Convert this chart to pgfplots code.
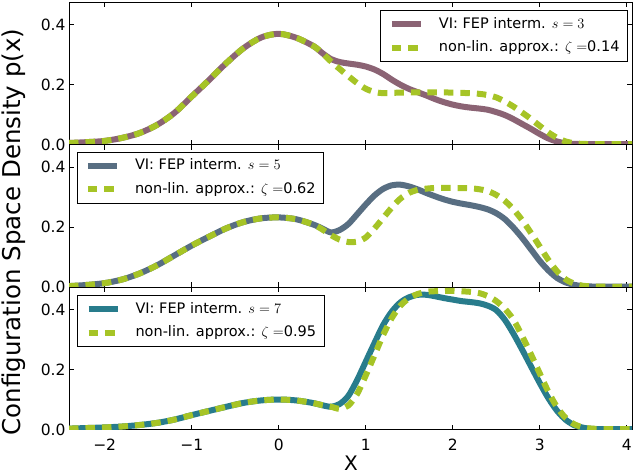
\documentclass[border=0pt]{standalone}
\usepackage{pgfplots}
\pgfplotsset{compat=1.18}
\usepackage{fontspec}
\setmainfont{DejaVu Sans}
\definecolor{vimauve}{RGB}{139,99,116}
\definecolor{vislate}{RGB}{88,110,130}
\definecolor{viteal}{RGB}{40,124,140}
\definecolor{apgreen}{RGB}{166,196,38}
\pgfplotsset{
  panel/.style={
    scale only axis, width=563pt, height=142.5pt,
    xmin=-2.41, xmax=4.06, ymin=0, ymax=0.475,
    xtick={-2,-1,0,1,2,3,4}, ytick={0,0.2,0.4}, yticklabels={0.0,0.2,0.4},
    tick align=inside, tick pos=both,
    major tick length=5pt,
    axis line style={line width=1pt},
    every tick/.style={black, line width=0.8pt},
    tick label style={font=\fontsize{15.5}{18}\selectfont},
    xticklabel style={yshift=-6pt},
    legend cell align=left,
    legend image code/.code={\draw[##1] (0pt,0pt) -- (29pt,0pt);},
    legend style={draw=black, line width=1pt, fill=white,
      font=\fontsize{14.5}{17}\selectfont,
      inner xsep=8pt, inner ysep=7pt, row sep=10pt,
      nodes={inner sep=0pt, text height=10.5pt, text depth=3pt},
      /tikz/every odd column/.style={column sep=15pt}},
  },
  vi/.style={line width=6pt, smooth},
  ap/.style={line width=6pt, smooth, color=apgreen, dash pattern=on 9.5pt off 7pt},
}
\begin{document}
\begin{tikzpicture}
% top panel
\begin{axis}[panel, at={(0,0)}, anchor=north west, xticklabels={},
  legend style={at={(axis description cs:1,1)}, anchor=north east, xshift=-4pt, yshift=-8pt}]
\addplot[vi, vimauve] coordinates {(-2.41,0.005) (-2.2,0.008) (-2.0,0.012) (-1.8,0.022) (-1.6,0.038) (-1.4,0.065) (-1.2,0.105) (-1.0,0.160) (-0.8,0.215) (-0.6,0.272) (-0.4,0.322) (-0.2,0.357) (0,0.369) (0.2,0.356) (0.4,0.328) (0.5,0.305) (0.6,0.285) (0.7,0.275) (0.8,0.27) (0.9,0.266) (1.0,0.26) (1.1,0.25) (1.2,0.235) (1.3,0.216) (1.4,0.199) (1.5,0.185) (1.6,0.174) (1.7,0.163) (1.8,0.151) (1.9,0.141) (2.0,0.133) (2.1,0.127) (2.2,0.123) (2.3,0.12) (2.4,0.116) (2.5,0.108) (2.6,0.098) (2.7,0.084) (2.8,0.068) (2.9,0.052) (3.0,0.035) (3.1,0.02) (3.2,0.01) (3.3,0.004) (3.4,0.002) (3.6,0.001) (4.06,0.001)};
\addlegendentry{VI: FEP interm. $s=3$}
\addplot[ap] coordinates {(-2.41,0.005) (-2.2,0.008) (-2.0,0.012) (-1.8,0.022) (-1.6,0.038) (-1.4,0.065) (-1.2,0.105) (-1.0,0.160) (-0.8,0.215) (-0.6,0.272) (-0.4,0.322) (-0.2,0.357) (0,0.369) (0.2,0.356) (0.4,0.328) (0.5,0.305) (0.6,0.277) (0.7,0.252) (0.8,0.228) (0.9,0.205) (1.0,0.186) (1.1,0.175) (1.2,0.171) (1.3,0.172) (1.4,0.173) (1.6,0.174) (1.8,0.174) (2.0,0.173) (2.2,0.171) (2.3,0.169) (2.4,0.165) (2.5,0.157) (2.6,0.143) (2.7,0.126) (2.8,0.106) (2.9,0.085) (3.0,0.062) (3.1,0.04) (3.2,0.022) (3.3,0.01) (3.4,0.004) (3.5,0.002) (3.7,0.001) (4.06,0.001)};
\addlegendentry{non-lin. approx.: $\zeta=$0.14}
\end{axis}
% middle panel
\begin{axis}[panel, at={(0,-142.5pt)}, anchor=north west, xticklabels={},
  legend style={at={(axis description cs:0,1)}, anchor=north west, xshift=7.5pt, yshift=-7pt}]
\addplot[vi, vislate] coordinates {(-2.41,0.003) (-2.2,0.007) (-2.0,0.013) (-1.8,0.025) (-1.6,0.045) (-1.4,0.072) (-1.2,0.105) (-1.0,0.138) (-0.8,0.168) (-0.6,0.196) (-0.4,0.217) (-0.2,0.229) (0,0.232) (0.2,0.226) (0.4,0.208) (0.5,0.195) (0.6,0.182) (0.7,0.19) (0.8,0.21) (0.9,0.242) (1.0,0.275) (1.1,0.305) (1.2,0.327) (1.3,0.339) (1.4,0.341) (1.5,0.335) (1.6,0.325) (1.7,0.313) (1.8,0.302) (1.9,0.292) (2.0,0.284) (2.1,0.278) (2.2,0.273) (2.3,0.267) (2.4,0.259) (2.5,0.246) (2.6,0.226) (2.7,0.197) (2.8,0.163) (2.9,0.125) (3.0,0.087) (3.1,0.055) (3.2,0.03) (3.3,0.015) (3.4,0.007) (3.5,0.003) (3.7,0.001) (4.06,0.001)};
\addlegendentry{VI: FEP interm. $s=5$}
\addplot[ap] coordinates {(-2.41,0.003) (-2.2,0.007) (-2.0,0.013) (-1.8,0.025) (-1.6,0.045) (-1.4,0.072) (-1.2,0.105) (-1.0,0.138) (-0.8,0.168) (-0.6,0.196) (-0.4,0.217) (-0.2,0.229) (0,0.232) (0.2,0.226) (0.4,0.208) (0.5,0.192) (0.6,0.173) (0.7,0.158) (0.8,0.150) (0.9,0.151) (1.0,0.165) (1.1,0.195) (1.2,0.23) (1.3,0.265) (1.4,0.295) (1.5,0.314) (1.6,0.324) (1.7,0.328) (1.8,0.33) (2.0,0.33) (2.2,0.329) (2.3,0.326) (2.4,0.32) (2.5,0.307) (2.6,0.287) (2.7,0.258) (2.8,0.222) (2.9,0.18) (3.0,0.135) (3.1,0.09) (3.2,0.052) (3.3,0.025) (3.4,0.011) (3.5,0.004) (3.7,0.001) (4.06,0.001)};
\addlegendentry{non-lin. approx.: $\zeta=$0.62}
\end{axis}
% bottom panel
\begin{axis}[panel, at={(0,-285pt)}, anchor=north west,
  xticklabels={−2,−1,0,1,2,3,4},
  legend style={at={(axis description cs:0,1)}, anchor=north west, xshift=8pt, yshift=-8pt}]
\addplot[vi, viteal] coordinates {(-2.41,0.003) (-2.2,0.005) (-2.0,0.007) (-1.8,0.01) (-1.6,0.015) (-1.4,0.022) (-1.2,0.033) (-1.0,0.048) (-0.8,0.062) (-0.6,0.076) (-0.4,0.089) (-0.2,0.097) (0,0.10) (0.2,0.097) (0.4,0.088) (0.5,0.081) (0.6,0.076) (0.7,0.085) (0.8,0.112) (0.9,0.164) (1.0,0.226) (1.1,0.288) (1.2,0.348) (1.3,0.393) (1.4,0.424) (1.5,0.441) (1.6,0.449) (1.7,0.449) (1.8,0.444) (1.9,0.438) (2.0,0.433) (2.1,0.428) (2.2,0.425) (2.3,0.421) (2.4,0.413) (2.5,0.398) (2.6,0.365) (2.7,0.318) (2.8,0.265) (2.9,0.21) (3.0,0.155) (3.1,0.104) (3.2,0.062) (3.3,0.032) (3.4,0.014) (3.5,0.006) (3.6,0.002) (3.8,0.001) (4.06,0.001)};
\addlegendentry{VI: FEP interm. $s=7$}
\addplot[ap] coordinates {(-2.41,0.003) (-2.2,0.005) (-2.0,0.007) (-1.8,0.01) (-1.6,0.015) (-1.4,0.022) (-1.2,0.033) (-1.0,0.048) (-0.8,0.062) (-0.6,0.076) (-0.4,0.089) (-0.2,0.097) (0,0.10) (0.2,0.097) (0.4,0.088) (0.5,0.081) (0.6,0.076) (0.7,0.069) (0.8,0.080) (0.9,0.118) (1.0,0.18) (1.1,0.247) (1.2,0.315) (1.3,0.372) (1.4,0.413) (1.5,0.438) (1.6,0.452) (1.7,0.459) (1.8,0.461) (2.0,0.462) (2.2,0.459) (2.3,0.455) (2.4,0.445) (2.5,0.428) (2.6,0.402) (2.7,0.365) (2.8,0.31) (2.9,0.25) (3.0,0.187) (3.1,0.125) (3.2,0.074) (3.3,0.038) (3.4,0.017) (3.5,0.007) (3.6,0.003) (3.8,0.001) (4.06,0.001)};
\addlegendentry{non-lin. approx.: $\zeta=$0.95}
\end{axis}
\node[rotate=90, font=\fontsize{24.5}{28}\selectfont] at (-55pt,-230pt) {Configuration Space Density p(x)};
\node[font=\fontsize{20}{24}\selectfont] at (282pt,-461pt) {X};
\pgfresetboundingbox
\path (-69pt,2pt) rectangle (567pt,-472pt);
\end{tikzpicture}
\end{document}
